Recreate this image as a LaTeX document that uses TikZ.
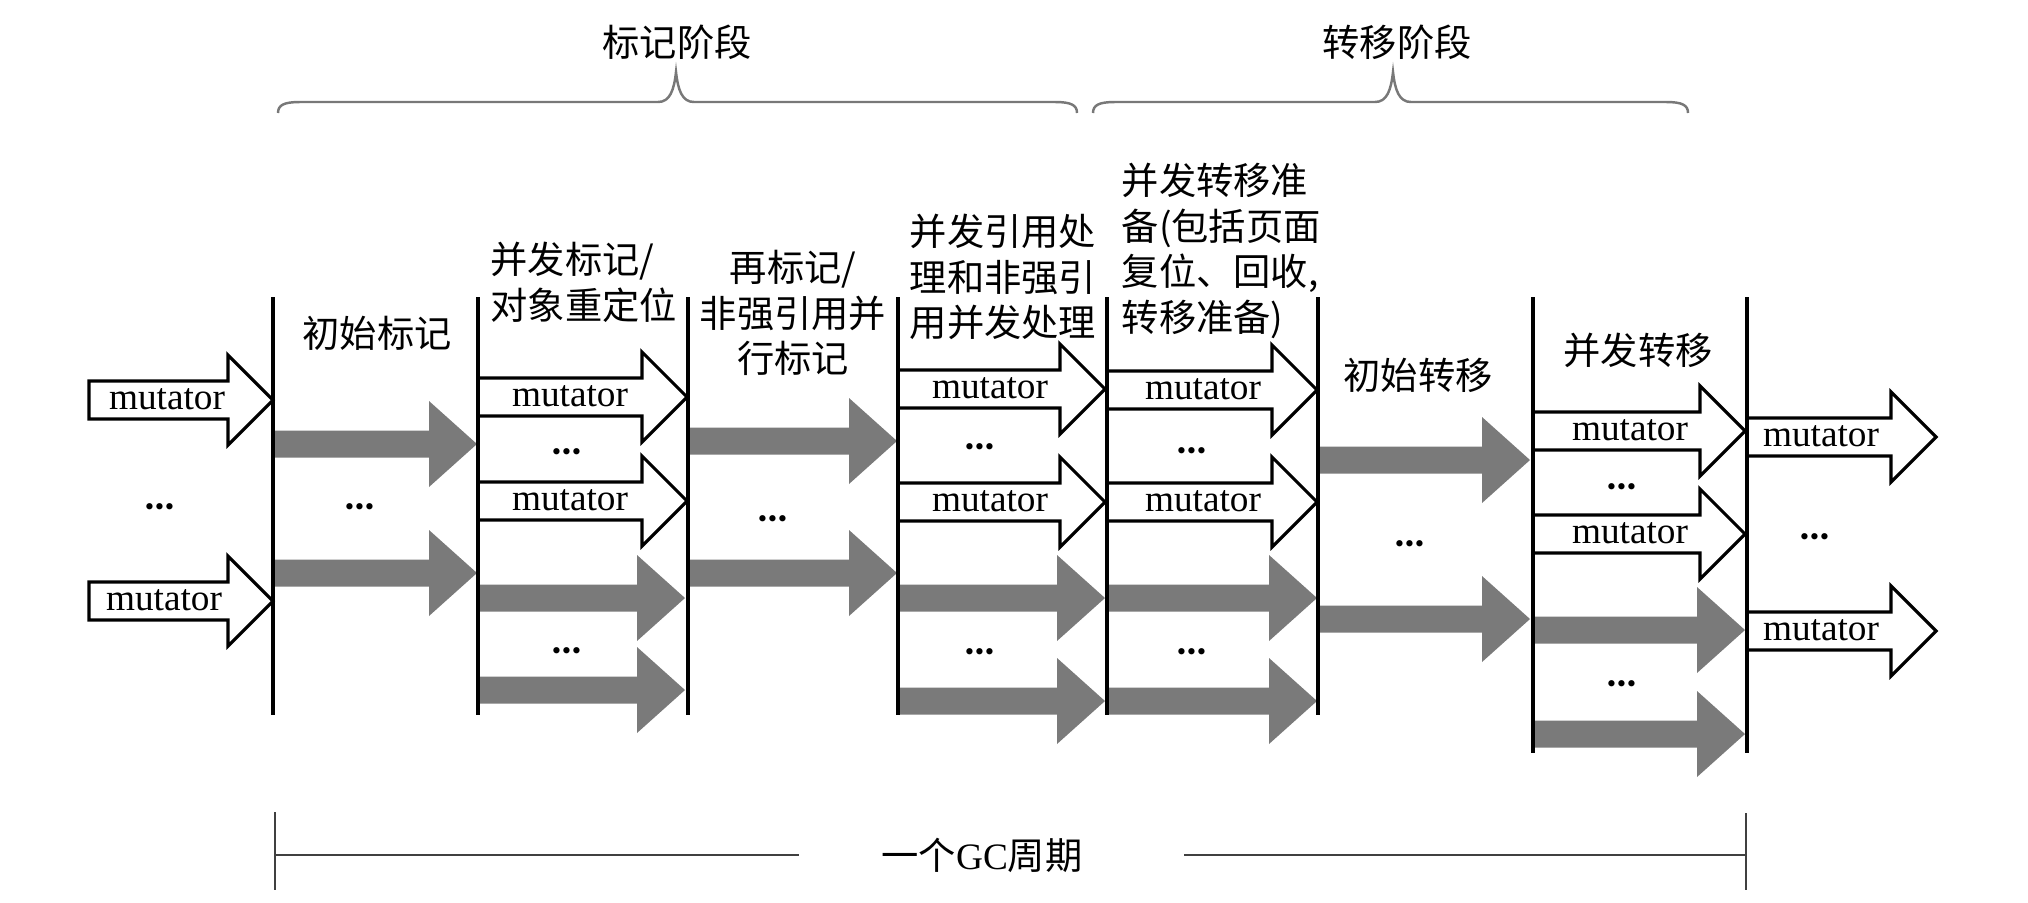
\documentclass[tikz,border=0pt]{standalone}
\usepackage{fontspec}
\setmainfont{Liberation Serif}
\newfontfamily\cjk{Noto Sans CJK SC}
\definecolor{arrgray}{RGB}{122,122,122}
\definecolor{bracegray}{RGB}{120,120,120}
\tikzset{
  mbody/.style={draw=black, fill=white, line width=0.9pt, line join=miter},
  gbody/.style={fill=arrgray},
  mtext/.style={font=\fontsize{10.6}{12}\selectfont, inner sep=0pt},
  lbl/.style={font=\cjk\fontsize{10.6}{13}\selectfont, inner sep=0pt},
  vline/.style={line width=1pt},
  dotstext/.style={font=\bfseries\fontsize{11}{12}\selectfont, inner sep=0pt, yshift=-2.3pt},
  bracestyle/.style={draw=bracegray, line width=0.7pt},
  bline/.style={draw=black!75, line width=0.7pt},
}
% mutator arrow: name, x0, x1, yc, text x
\newcommand\marrow[5]{%
  \draw[mbody] (#2,#4-19) -- (#3-45,#4-19) -- (#3-45,#4-45) -- (#3,#4)
     -- (#3-45,#4+45) -- (#3-45,#4+19) -- (#2,#4+19) -- cycle;
  \node[mtext] (#1) at (#5,#4-1) {mutator};
}
% grey arrow: x0, x1, yc
\newcommand\garrow[3]{%
  \fill[gbody] (#1,#3-13.5) -- (#2-48,#3-13.5) -- (#2-48,#3-43) -- (#2,#3)
     -- (#2-48,#3+43) -- (#2-48,#3+13.5) -- (#1,#3+13.5) -- cycle;
}
% brace: xL, xc, xR
\newcommand\topbrace[3]{%
  \draw[bracestyle] (#1,113) .. controls (#1,105) and (#1+6,102) .. (#1+22,102)
    -- (#2-18,102) .. controls (#2-6,102) and (#2-2,90) .. (#2,72)
    .. controls (#2+2,90) and (#2+6,102) .. (#2+18,102)
    -- (#3-22,102) .. controls (#3-6,102) and (#3,105) .. (#3,113);
}
\newcommand\mydots{·\kern-0.8pt·\kern-0.8pt·}
\begin{document}
\begin{tikzpicture}[x=0.01cm, y=-0.01cm]
\useasboundingbox (0,0) rectangle (2028,902);

% phase braces
\topbrace{278}{676}{1077}
\topbrace{1093}{1393}{1688}
\node[lbl] (p1) at (677,42) {标记阶段};
\node[lbl] (p2) at (1397,42) {转移阶段};

% column labels
\node[lbl] (c1) at (377,333) {初始标记};
\node[lbl, align=left, anchor=west] (c2) at (490,282) {并发标记/\\对象重定位};
\node[lbl, align=center] (c3) at (793,313) {再标记/\\非强引用并\\行标记};
\node[lbl, align=center] (c4) at (1003,277) {并发引用处\\理和非强引\\用并发处理};
\node[lbl, align=left, anchor=west] (c5) at (1121,251) {并发转移准\\备(包括页面\\复位、回收,\\转移准备)};
\node[lbl] (c6) at (1418,375) {初始转移};
\node[lbl] (c7) at (1638,350) {并发转移};

% grey arrows
\garrow{275}{477}{444}
\garrow{275}{477}{573}
\garrow{478}{685}{598}
\garrow{478}{685}{690}
\garrow{688}{897}{441}
\garrow{688}{897}{573}
\garrow{898}{1105}{598}
\garrow{898}{1105}{701}
\garrow{1107}{1317}{598}
\garrow{1107}{1317}{701}
\garrow{1318}{1530}{460}
\garrow{1318}{1530}{619}
\garrow{1533}{1745}{630}
\garrow{1533}{1745}{734}

% mutator arrows
\marrow{m0a}{89}{273}{400}{167}
\marrow{m0b}{89}{273}{601}{164}
\marrow{m2a}{478}{687}{397}{570}
\marrow{m2b}{478}{687}{501}{570}
\marrow{m4a}{898}{1105}{389}{990}
\marrow{m4b}{898}{1105}{502}{990}
\marrow{m5a}{1107}{1317}{390}{1203}
\marrow{m5b}{1107}{1317}{502}{1203}
\marrow{m7a}{1533}{1745}{431}{1630}
\marrow{m7b}{1533}{1745}{534}{1630}
\marrow{m8a}{1747}{1936}{437}{1821}
\marrow{m8b}{1747}{1936}{631}{1821}

% ellipses
\node[dotstext] (d0) at (160,503) {\mydots};
\node[dotstext] (d1) at (360,503) {\mydots};
\node[dotstext] (d2a) at (567,448) {\mydots};
\node[dotstext] (d2b) at (567,647) {\mydots};
\node[dotstext] (d3) at (773,515) {\mydots};
\node[dotstext] (d4a) at (980,443) {\mydots};
\node[dotstext] (d4b) at (980,648) {\mydots};
\node[dotstext] (d5a) at (1192,447) {\mydots};
\node[dotstext] (d5b) at (1192,648) {\mydots};
\node[dotstext] (d6) at (1410,540) {\mydots};
\node[dotstext] (d7a) at (1622,483) {\mydots};
\node[dotstext] (d7b) at (1622,680) {\mydots};
\node[dotstext] (d8) at (1815,533) {\mydots};

% vertical phase lines
\foreach \x in {273,478,688,898,1107,1318}
  \draw[vline] (\x,297) -- (\x,715);
\foreach \x in {1533,1747}
  \draw[vline] (\x,297) -- (\x,753);

% GC cycle span
\node[lbl] (gc) at (982,855) {一个{\rmfamily GC}周期};
\coordinate (bl) at (275,855);
\coordinate (br) at (1746,855);
\draw[bline] (275,812) -- (275,890);
\draw[bline] (1746,813) -- (1746,890);
\draw[bline] (bl) -- (799,855);
\draw[bline] (1184,855) -- (br);
\end{tikzpicture}
\end{document}
